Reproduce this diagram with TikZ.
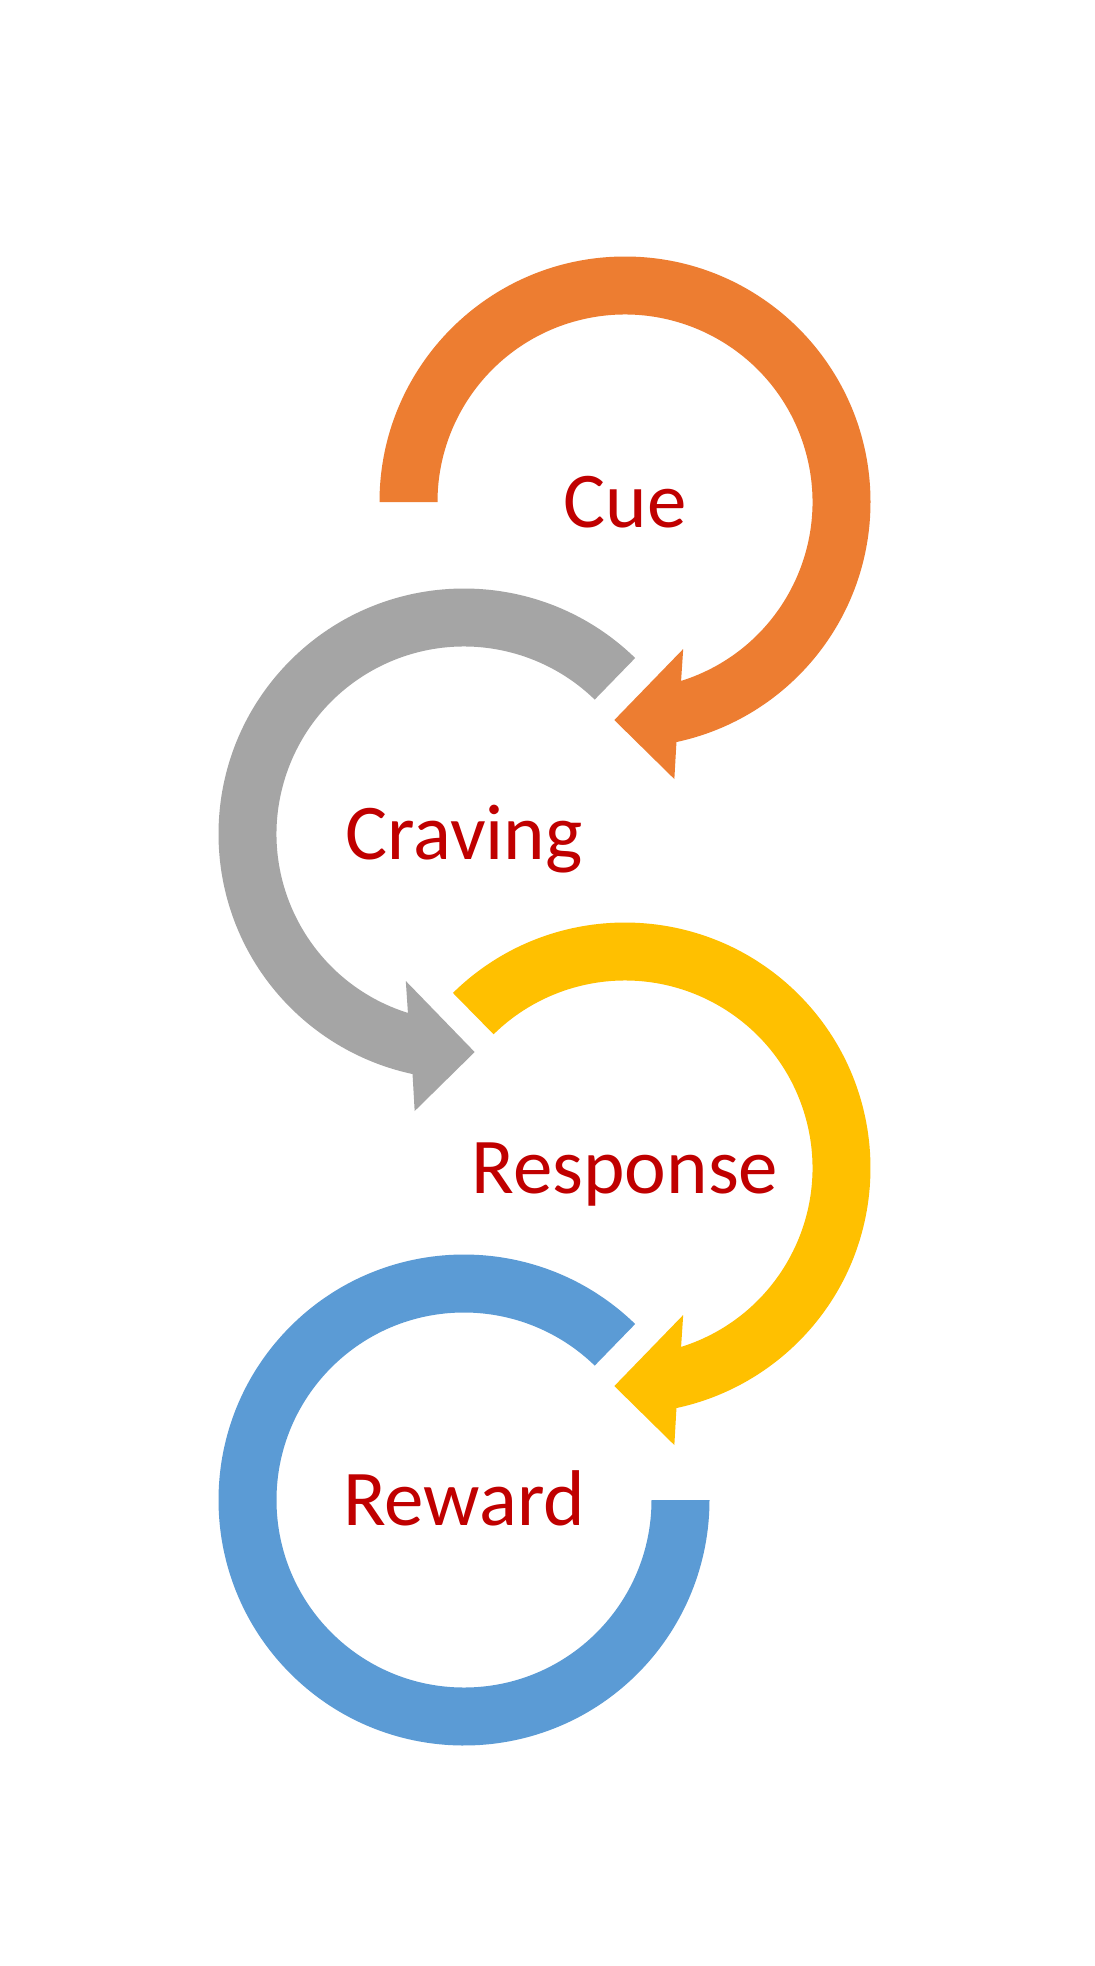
\documentclass[tikz,border=0pt]{standalone}
\usepackage{fontspec}
\setmainfont{Carlito}
\usepackage{tikz}
\usetikzlibrary{calc}
\definecolor{cueOrange}{RGB}{237,125,49}
\definecolor{cravingGray}{RGB}{165,165,165}
\definecolor{responseYellow}{RGB}{255,192,0}
\definecolor{rewardBlue}{RGB}{91,155,213}
\definecolor{textRed}{RGB}{192,0,0}
\tikzstyle{stage} = [anchor=base,inner sep=0pt,text=textRed,font=\fontsize{79}{95}\selectfont]
\newcommand{\habitArrow}[2]{%
\fill[#1] (#2:245.5) arc[start angle=#2,end angle=-77.9,radius=245.5] -- (-79.9:281.4) -- (-92.8:218.3) -- (-68.4:158.1) -- (-72.6:187.5) arc[start angle=-72.6,end angle=#2,radius=187.5] -- cycle;}

\begin{document}
\begin{tikzpicture}[x=1pt,y=1pt]
\fill[white] (0,0) rectangle (1095,-1966);
\coordinate (cue) at (625,-502);
\coordinate (craving) at (464,-834);
\coordinate (response) at (625,-1168);
\coordinate (reward) at (464,-1500);
\habitArrow{cueOrange,shift={(cue)}}{180}
\habitArrow{cravingGray,shift={(craving)},xscale=-1}{134.2}
\habitArrow{responseYellow,shift={(response)}}{134.5}
\fill[rewardBlue,shift={(reward)}] (45.8:245.5) arc[start angle=45.8,end angle=360,radius=245.5] -- (0:187.5) arc[start angle=360,end angle=45.8,radius=187.5] -- cycle;
\node[stage] (cueLabel) at ([yshift=-25pt]cue) {Cue};
\node[stage] (cravingLabel) at ([yshift=-25pt]craving) {Craving};
\node[stage] (responseLabel) at ([yshift=-25pt]response) {Response};
\node[stage] (rewardLabel) at ([yshift=-25pt]reward) {Reward};
\end{tikzpicture}
\end{document}
